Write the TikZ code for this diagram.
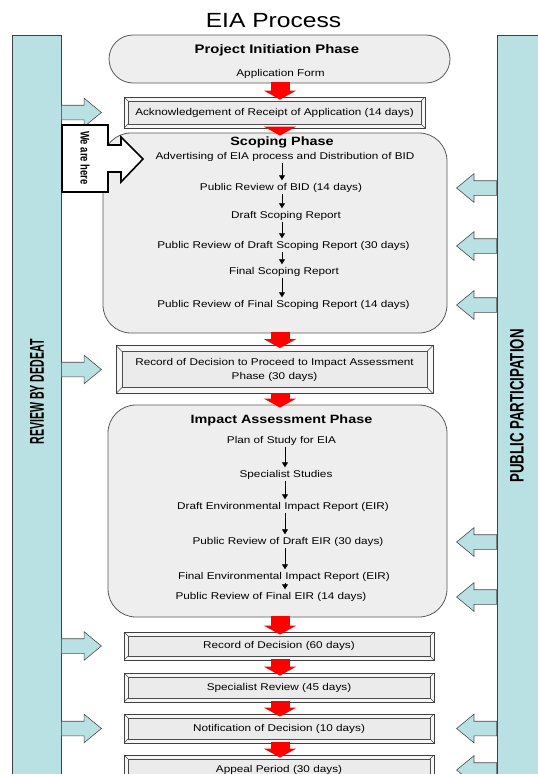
\documentclass[tikz,border=0pt]{standalone}
\usepackage{fontspec}
\setmainfont{Liberation Sans}[FakeStretch=1.2]
\newfontfamily\barfont{Liberation Sans}[FakeStretch=0.53]
\newfontfamily\ppfont{Liberation Sans}[FakeStretch=0.68]
\newfontfamily\herefont{Liberation Sans}[FakeStretch=0.76]
\usetikzlibrary{calc, positioning, shapes.arrows, arrows.meta}
\definecolor{barcyan}{HTML}{B9E0E3}
\definecolor{boxgray}{HTML}{EEEEEE}
\definecolor{edgegray}{HTML}{5A5A5A}
\definecolor{flowred}{HTML}{FF0000}
\newcommand{\bodysize}{\fontsize{9.8}{14}\selectfont}
\newcommand{\headsize}{\fontsize{12}{14}\selectfont}

\tikzset{
  phasebox/.style={draw=edgegray, line width=0.8pt, fill=boxgray, rounded corners=28pt, inner sep=0pt},
  bevelbox/.style={draw=black!75, line width=0.8pt, fill=black!3, inner sep=0pt, font=\bodysize, align=center,
    path picture={
      \draw[black!70, line width=0.5pt, fill=black!8]
        ([shift={(#1,#1)}]path picture bounding box.north west) rectangle ([shift={(-#1,-#1)}]path picture bounding box.south east);
      \foreach \c/\sx/\sy in {north west/1/1, north east/-1/1, south west/1/-1, south east/-1/-1}
        \draw[black!70, line width=0.5pt] (path picture bounding box.\c) -- ([shift={(\sx*#1,\sy*#1)}]path picture bounding box.\c);
    }},
  bevelbox/.default=4,
  txt/.style={inner sep=1pt, font=\bodysize, text height=7pt, text depth=2pt},
  headtxt/.style={inner sep=1pt, font=\headsize\bfseries},
  steparrow/.style={-{Triangle[width=6pt,length=5pt]}, line width=0.8pt, shorten >=2pt},
  flowarrow/.style={-{Triangle[width=32pt,length=9pt]}, line width=19pt, draw=flowred, shorten <=-1pt, shorten >=-3pt},
  sidebar/.style={draw=black!75, line width=0.8pt, fill=barcyan, inner sep=0pt},
  pparrow/.style={single arrow, draw=black!70, fill=barcyan, line width=0.6pt, inner xsep=0pt, inner ysep=7pt, outer sep=0pt,
    minimum height=40pt, minimum width=28pt, single arrow head extend=7pt, single arrow tip angle=79},
}

\begin{document}
\begin{tikzpicture}[x=1pt, y=-1pt]
  \useasboundingbox (0,0) rectangle (538,774);
  \clip (0,0) rectangle (538,774);
  \fill[white] (0,0) rectangle (538,774);

  \node[font=\fontsize{20.5}{24}\selectfont] (title) at (273.5,20.5) {EIA Process};

  % side bars
  \node[sidebar, minimum width=49pt, minimum height=760pt] (revbar) at (36.5,415) {};
  \node[sidebar, minimum width=48pt, minimum height=760pt] (ppbar) at (521,415) {};
  \node[rotate=90, font=\barfont\bfseries\fontsize{20}{22}\selectfont] (revlbl) at (37,392) {REVIEW BY DEDEAT};
  \node[rotate=90, font=\ppfont\bfseries\fontsize{19.5}{22}\selectfont] (pplbl) at (517,406) {PUBLIC PARTICIPATION};

  % main column
  \node[phasebox, rounded corners=24pt, minimum width=341pt, minimum height=48pt] (init) at (279.5,59) {};
  \node[headtxt, font=\fontsize{12.4}{14}\selectfont\bfseries] (in0) at (277,50) {Project Initiation Phase};
  \node[txt] (in1) at (280.5,74) {Application Form};

  \node[bevelbox, minimum width=301pt, minimum height=31pt] (ack) at (274.5,112.5)
    {Acknowledgement of Receipt of Application (14 days)};

  \node[phasebox, minimum width=344pt, minimum height=200pt] (scope) at (275,233) {};
  \node[headtxt] (sc0) at (282,142) {Scoping Phase};
  \node[txt] (sc1) at (285,157) {Advertising of EIA process and Distribution of BID};
  \node[txt] (sc2) at (281,188) {Public Review of BID (14 days)};
  \node[txt] (sc3) at (286,216) {Draft Scoping Report};
  \node[txt] (sc4) at (283.5,246) {Public Review of Draft Scoping Report (30 days)};
  \node[txt] (sc5) at (284,272) {Final Scoping Report};
  \node[txt] (sc6) at (283.5,305) {Public Review of Final Scoping Report (14 days)};
  \coordinate (scx) at (282,0);
  \foreach \a/\b in {sc1/sc2, sc2/sc3, sc3/sc4, sc4/sc5, sc5/sc6}
    \draw[steparrow] (\a.south -| scx) -- (\b.north -| scx);

  \node[bevelbox=6, minimum width=317pt, minimum height=48pt] (rdp) at (274.5,369.5)
    {Record of Decision to Proceed to Impact Assessment\\Phase (30 days)};

  \node[phasebox, minimum width=339pt, minimum height=212pt] (impact) at (277.5,511) {};
  \node[headtxt] (ia0) at (281.5,420) {Impact Assessment Phase};
  \node[txt] (ia1) at (281.5,441) {Plan of Study for EIA};
  \node[txt] (ia2) at (286,475) {Specialist Studies};
  \node[txt] (ia3) at (283,507) {Draft Environmental Impact Report (EIR)};
  \node[txt] (ia4) at (288,542) {Public Review of Draft EIR (30 days)};
  \node[txt] (ia5) at (284,577) {Final Environmental Impact Report (EIR)};
  \node[txt] (ia6) at (271,597) {Public Review of Final EIR (14 days)};
  \coordinate (iax) at (285,0);
  \foreach \a/\b in {ia1/ia2, ia2/ia3, ia3/ia4, ia4/ia5, ia5/ia6}
    \draw[steparrow] (\a.south -| iax) -- (\b.north -| iax);

  \node[bevelbox, minimum width=310pt, minimum height=28pt] (rod) at (279,646) {Record of Decision (60 days)};
  \node[bevelbox, minimum width=310pt, minimum height=29pt] (spec) at (279,687.5) {Specialist Review (45 days)};
  \node[bevelbox, minimum width=310pt, minimum height=29pt] (notif) at (279,728.5) {Notification of Decision (10 days)};
  \node[bevelbox, minimum width=310pt, minimum height=30pt] (appeal) at (279,770) {Appeal Period (30 days)};

  % red flow arrows
  \coordinate (spine) at (280,0);
  \foreach \a/\b in {init/ack, ack/scope, scope/rdp, rdp/impact, impact/rod, rod/spec, spec/notif, notif/appeal}
    \draw[flowarrow] (\a.south -| spine) -- (\b.north -| spine);

  % review and participation arrows
  \foreach \n/\t in {1/ack, 2/rdp, 3/rod, 4/notif}
    \node[pparrow, anchor=tail] (rv\n) at (revbar.east |- \t) {};
  \foreach \n/\t in {1/sc2, 2/sc4, 3/sc6, 4/ia4, 5/ia6, 6/notif, 7/appeal}
    \node[pparrow, shape border rotate=180, anchor=tail] (pp\n) at (ppbar.west |- \t) {};

  % we are here
  \draw[line width=1.6pt, fill=white] (62,125) -- (108,125) -- (108,145) -- (121,145) -- (121,137)
    -- (143,159) -- (121,182) -- (121,172) -- (108,172) -- (108,192) -- (62,192) -- cycle;
  \node[rotate=-90, font=\herefont\bfseries\fontsize{12.5}{14}\selectfont] (here) at (85,158) {We are here};
\end{tikzpicture}
\end{document}
